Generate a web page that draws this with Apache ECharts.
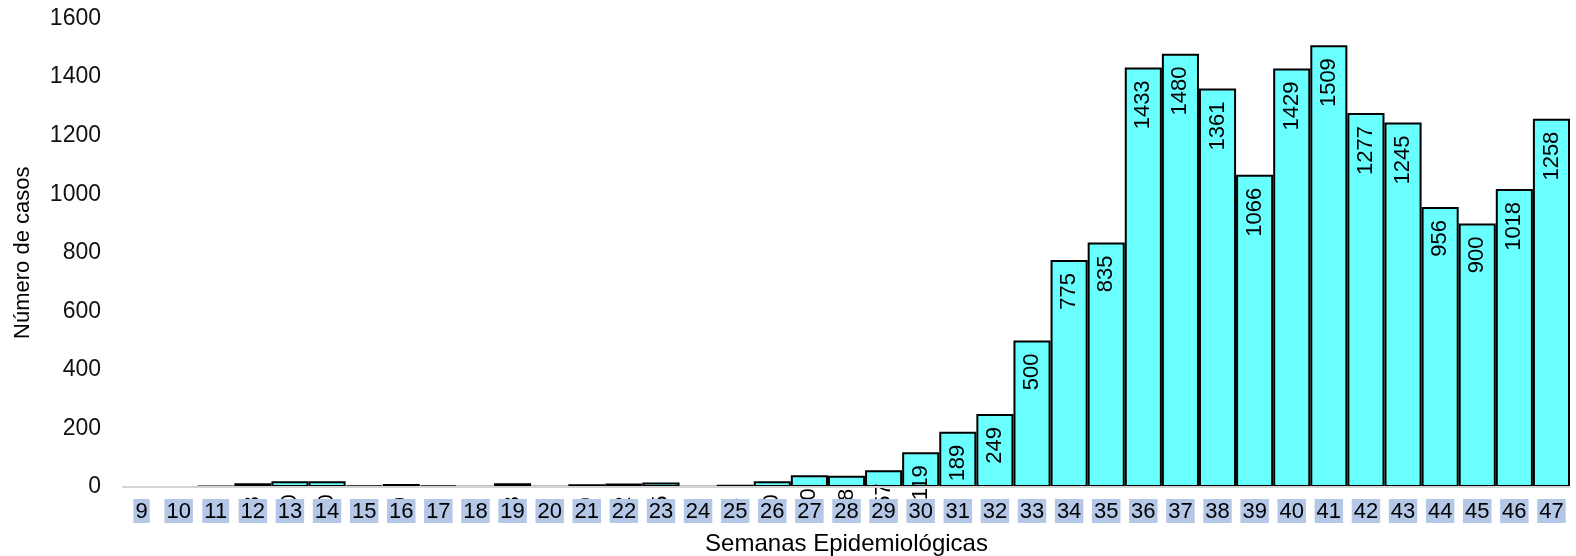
<!DOCTYPE html>
<html>
<head>
<meta charset="utf-8">
<script src="https://cdn.jsdelivr.net/npm/echarts@6/dist/echarts.min.js"></script>
<style>html,body{margin:0;padding:0;background:#fff}#c{width:1576px;height:556px}</style>
</head>
<body>
<div id="c"></div>
<script>
const weeks = ['9','10','11','12','13','14','15','16','17','18','19','20','21','22','23','24','25','26','27','28','29','30','31','32','33','34','35','36','37','38','39','40','41','42','43','44','45','46','47'];
const cases = [0,0,3,13,20,20,5,10,5,1,13,1,9,12,15,1,8,20,40,38,57,119,189,249,500,775,835,1433,1480,1361,1066,1429,1509,1277,1245,956,900,1018,1258];
const yTicks = {min: 0, max: 1600, interval: 200};
const xTitle = 'Semanas Epidemiológicas';
const yTitle = 'Número de casos';

const FONT = "'Liberation Sans', Arial, sans-serif";
const chart = echarts.init(document.getElementById('c'));
chart.setOption({
  animation: false,
  grid: {left: 123, right: 6, top: 18.5, bottom: 69, containLabel: false, outerBoundsMode: 'none'},
  xAxis: {
    type: 'category',
    data: weeks,
    z: 5,
    name: xTitle,
    nameLocation: 'middle',
    nameGap: 45,
    nameTextStyle: {fontFamily: FONT, fontSize: 24, color: '#000'},
    axisLine: {lineStyle: {color: '#d4d4d4', width: 2}},
    axisTick: {show: false},
    axisLabel: {
      interval: 0, margin: 12, fontFamily: FONT, fontSize: 22, color: '#000',
      backgroundColor: '#B4C7E7', padding: [3, 2, 2, 2], lineHeight: 19
    }
  },
  yAxis: {
    type: 'value',
    min: yTicks.min, max: yTicks.max, interval: yTicks.interval,
    name: yTitle,
    nameLocation: 'middle',
    nameGap: 89,
    nameTextStyle: {fontFamily: FONT, fontSize: 22, color: '#000'},
    axisLine: {show: false},
    axisTick: {show: false},
    splitLine: {show: false},
    axisLabel: {margin: 22, fontFamily: FONT, fontSize: 23, color: '#111', formatter: v => String(v)}
  },
  series: [{
    type: 'bar',
    data: cases.map(v => v === 0 ? {value: v, itemStyle: {borderWidth: 0}, label: {show: false}} : v),
    barWidth: '100%',
    barCategoryGap: '0%',
    itemStyle: {color: '#69FFFF', borderColor: '#000', borderWidth: 2},
    label: {
      show: true,
      position: 'insideTop',
      rotate: 90,
      align: 'right',
      verticalAlign: 'middle',
      distance: 13,
      fontFamily: FONT,
      fontSize: 22,
      color: '#000'
    }
  }]
});
</script>
</body>
</html>
